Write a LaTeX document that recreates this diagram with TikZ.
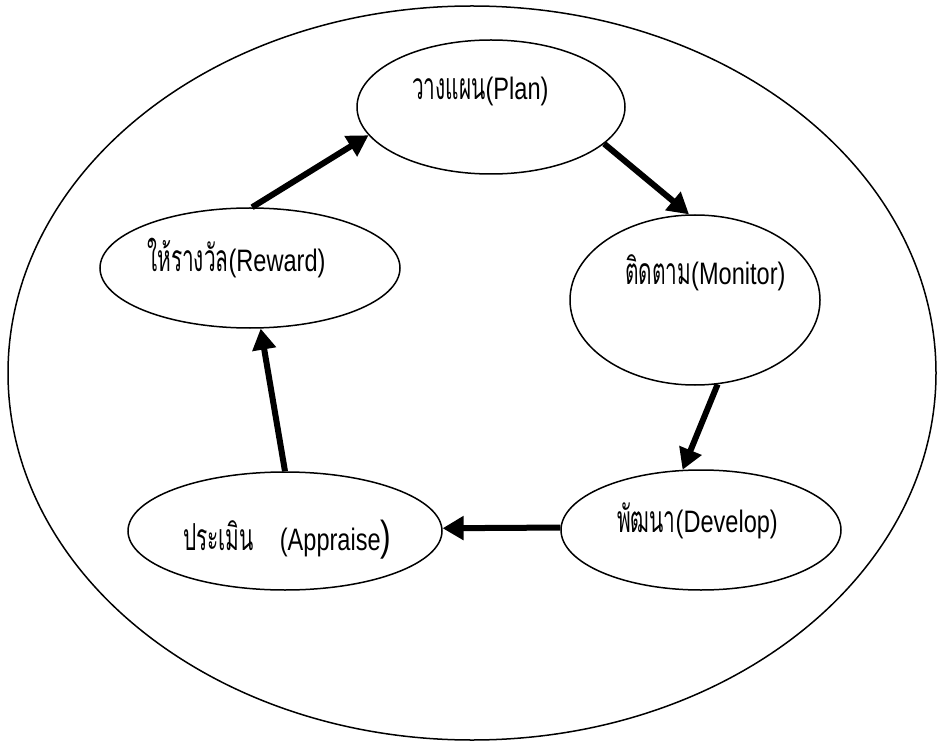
\documentclass[tikz,border=0pt]{standalone}
\usepackage{fontspec}
\setmainfont{Liberation Sans}[FakeStretch=0.76]
\newfontfamily\thai[Script=Thai,FakeStretch=0.56,Scale=1.2]{Loma}
\usetikzlibrary{shapes.geometric,arrows.meta}
\begin{document}
\begin{tikzpicture}[x=1pt,y=-1pt,
  oval/.style={draw,ellipse,line width=1.5pt,inner sep=0pt},
  lbl/.style={anchor=base west,inner sep=0pt,font=\fontsize{31}{33}\selectfont},
  flow/.style={line width=6pt,-{Triangle[length=21pt,width=23pt]}}]
\useasboundingbox (0,0) rectangle (937,743);
\node[oval,minimum width=928pt,minimum height=734pt] (outer) at (472,373) {};
\node[oval,minimum width=268pt,minimum height=134pt] (plan) at (491,107) {};
\node[oval,minimum width=250pt,minimum height=170pt] (monitor) at (695,300) {};
\node[oval,minimum width=280pt,minimum height=120pt] (develop) at (701,530) {};
\node[oval,minimum width=314pt,minimum height=118pt] (appraise) at (285,531) {};
\node[oval,minimum width=300pt,minimum height=120pt] (reward) at (250,268) {};
\node[lbl] (tplan) at (412,100) {{\thai วางแผน}(Plan)};
\node[lbl] (tmonitor) at (625,285) {{\thai ติดตาม}(Monitor)};
\node[lbl] (treward) at (147,272) {{\thai ให้รางวัล}(Reward)};
\node[lbl] (tappraise) at (183,550) {{\thai ประเมิน}\hspace{26pt}(Appraise{\fontsize{42}{42}\selectfont)}};
\node[lbl] (tdevelop) at (617,532) {{\thai พัฒนา}(Develop)};
\draw[flow] (reward.88) -- (plan.193.7);
\draw[flow] (plan.342.6) -- (monitor.94.8);
\draw[flow] (monitor.285) -- (develop.107);
\draw[flow] (develop.179) -- (appraise.1);
\draw[flow] (appraise.90) -- (reward.280);
\end{tikzpicture}
\end{document}
